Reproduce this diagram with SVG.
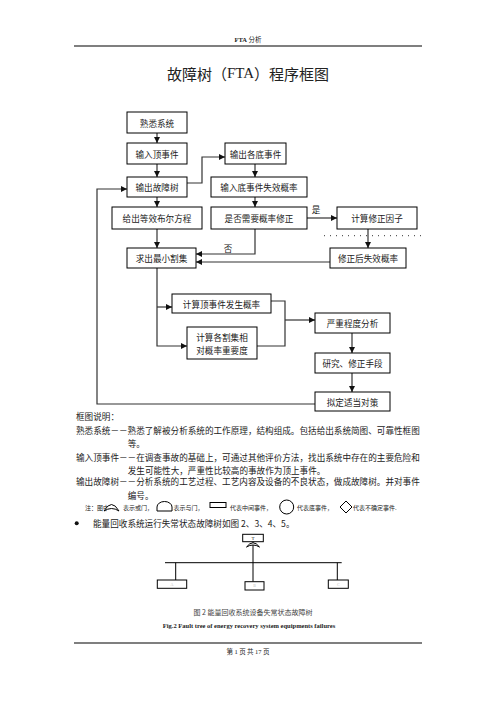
<svg xmlns="http://www.w3.org/2000/svg" width="496" height="702" viewBox="0 0 496 702">
<style>
.box{fill:#fff;stroke:#000;stroke-width:1}
.bt{font-family:"Noto Sans CJK SC","Liberation Serif",serif;font-size:8.6px;fill:#222;text-anchor:middle;dominant-baseline:central}
.con{fill:none;stroke:#333;stroke-width:1.2}
.p{font-family:"Noto Sans CJK SC","Liberation Serif",serif;font-size:8.6px;fill:#222}
.lg{font-family:"Noto Sans CJK SC","Liberation Serif",serif;font-size:6px;fill:#222;dominant-baseline:central}
.sym{fill:#fff;stroke:#000;stroke-width:1}
</style>
<defs>
<marker id="ah" viewBox="0 0 6 6" refX="6" refY="3" markerWidth="6" markerHeight="6" markerUnits="userSpaceOnUse" orient="auto">
<path d="M0,0 L6,3 L0,6 Z" fill="#111"/>
</marker>
</defs>
<rect width="496" height="702" fill="#fff"/>
<!-- header -->
<text x="248" y="42" text-anchor="middle" font-family="Liberation Serif,'Noto Sans CJK SC',serif" font-size="6.5" fill="#222"><tspan font-weight="bold">FTA</tspan> <tspan font-family="'Noto Sans CJK SC',serif">分析</tspan></text>
<line x1="74" y1="46" x2="422" y2="46" stroke="#000" stroke-width="1.2"/>
<text x="248" y="73" text-anchor="middle" dominant-baseline="central" font-family="'Noto Sans CJK SC',serif" font-size="15" fill="#222">故障树（<tspan font-family="'Liberation Serif',serif">FTA</tspan>）程序框图</text>
<!-- connectors -->
<g id="connectors">
<path class="con" d="M157,133 V143" marker-end="url(#ah)"/>
<path class="con" d="M157,164 V177" marker-end="url(#ah)"/>
<path class="con" d="M157,197 V207" marker-end="url(#ah)"/>
<path class="con" d="M157,229 V248" marker-end="url(#ah)"/>
<path class="con" d="M187,183 H202 V157 H225" marker-end="url(#ah)"/>
<path class="con" d="M255,164 V177" marker-end="url(#ah)"/>
<path class="con" d="M255,197 V207" marker-end="url(#ah)"/>
<path class="con" d="M307,218 H337" marker-end="url(#ah)"/>
<path class="con" d="M255,229 V254 H196" marker-end="url(#ah)"/>
<path class="con" d="M368,229 V248" marker-end="url(#ah)"/>
<line x1="324" y1="235.7" x2="421" y2="235.7" stroke="#333" stroke-width="1" stroke-dasharray="1 5"/>
<path class="con" d="M330,262 H196" marker-end="url(#ah)"/>
<path class="con" d="M157,268 V346 H187" marker-end="url(#ah)"/>
<path class="con" d="M157,307 H172" marker-end="url(#ah)"/>
<path class="con" d="M271,301 H285 V346 H257"/>
<path class="con" d="M285,320 H315" marker-end="url(#ah)"/>
<path class="con" d="M352,333 V353" marker-end="url(#ah)"/>
<path class="con" d="M352,373 V392" marker-end="url(#ah)"/>
<path class="con" d="M315,404 H97 V189 H127" marker-end="url(#ah)"/>
<text class="bt" x="316" y="209">是</text>
<text class="bt" x="228" y="248">否</text>
</g>
<!-- nodes -->
<g id="n1"><rect class="box" x="127" y="112" width="60" height="21"/><text class="bt" x="157" y="122.5">熟悉系统</text></g>
<g id="n2"><rect class="box" x="127" y="143" width="60" height="21"/><text class="bt" x="157" y="153.5">输入顶事件</text></g>
<g id="n3"><rect class="box" x="127" y="177" width="60" height="20"/><text class="bt" x="157" y="187">输出故障树</text></g>
<g id="n4"><rect class="box" x="112" y="207" width="90" height="22"/><text class="bt" x="157" y="218">给出等效布尔方程</text></g>
<g id="n5"><rect class="box" x="225" y="143" width="61" height="21"/><text class="bt" x="255.5" y="153.5">输出各底事件</text></g>
<g id="n6"><rect class="box" x="211" y="177" width="96" height="20"/><text class="bt" x="259" y="187">输入底事件失效概率</text></g>
<g id="n7"><rect class="box" x="211" y="207" width="96" height="22"/><text class="bt" x="259" y="218">是否需要概率修正</text></g>
<g id="n8"><rect class="box" x="337" y="207" width="80" height="22"/><text class="bt" x="377" y="218">计算修正因子</text></g>
<g id="n9"><rect class="box" x="127" y="248" width="69" height="20"/><text class="bt" x="161.5" y="258">求出最小割集</text></g>
<g id="n10"><rect class="box" x="330" y="248" width="76" height="20"/><text class="bt" x="368" y="258">修正后失效概率</text></g>
<g id="n11"><rect class="box" x="172" y="294" width="99" height="19"/><text class="bt" x="221.5" y="303.5">计算顶事件发生概率</text></g>
<g id="n12"><rect class="box" x="187" y="327" width="70" height="32"/><text class="bt" x="222" y="336.5">计算各割集相</text><text class="bt" x="222" y="349.5">对概率重要度</text></g>
<g id="n13"><rect class="box" x="315" y="313" width="75" height="20"/><text class="bt" x="352.5" y="323">严重程度分析</text></g>
<g id="n14"><rect class="box" x="315" y="353" width="75" height="20"/><text class="bt" x="352.5" y="363">研究、修正手段</text></g>
<g id="n15"><rect class="box" x="315" y="392" width="75" height="19"/><text class="bt" x="352.5" y="401.5">拟定适当对策</text></g>
<!-- explanation text -->
<text class="p" x="76" y="420">框图说明：</text>
<text class="p" x="76" y="434">熟悉系统－－熟悉了解被分析系统的工作原理，结构组成。包括给出系统简图、可靠性框图</text>
<text class="p" x="127.7" y="447">等。</text>
<text class="p" x="76" y="461">输入顶事件－－在调查事故的基础上，可通过其他评价方法，找出系统中存在的主要危险和</text>
<text class="p" x="127.7" y="474">发生可能性大，严重性比较高的事故作为顶上事件。</text>
<text class="p" x="76" y="485">输出故障树－－分析系统的工艺过程、工艺内容及设备的不良状态，做成故障树。并对事件</text>
<text class="p" x="127.7" y="499">编号。</text>
<!-- legend -->
<text class="lg" x="85" y="507">注：图中</text>
<path class="sym" d="M104,511 Q111.5,498 119,511 Q111.5,506 104,511 Z"/>
<text class="lg" x="123" y="507">表示或门，</text>
<path class="sym" d="M157,511 V507 A7.5,5.5 0 0 1 172,507 V511 Z"/>
<text class="lg" x="173.5" y="507">表示与门，</text>
<rect class="sym" x="210" y="502.5" width="16" height="5"/>
<text class="lg" x="230" y="507">代表中间事件，</text>
<circle class="sym" cx="286.7" cy="507" r="7"/>
<text class="lg" x="297" y="507">代表底事件，</text>
<path class="sym" d="M340,507 L346,501 L352,507 L346,513 Z"/>
<text class="lg" x="353" y="507">代表不确定事件.</text>
<circle cx="76.7" cy="523.3" r="2" fill="#111"/>
<text class="p" x="93" y="526.5">能量回收系统运行失常状态故障树如图 2、3、4、5。</text>
<!-- fault tree -->
<g id="ft">
<rect class="sym" x="242.7" y="534.3" width="20.6" height="7.4"/>
<text x="253" y="538" text-anchor="middle" dominant-baseline="central" font-family="Liberation Serif,serif" font-size="5" fill="#222">T</text>
<line x1="253" y1="541.7" x2="253" y2="581.7" stroke="#000" stroke-width="1"/>
<path class="sym" d="M246.5,547 Q253,538.5 259.5,547 Q253,543 246.5,547 Z"/>
<line x1="165" y1="562.7" x2="341.7" y2="562.7" stroke="#000" stroke-width="1"/>
<line x1="175.7" y1="562.7" x2="175.7" y2="580" stroke="#000" stroke-width="1"/>
<line x1="337.3" y1="562.7" x2="337.3" y2="580" stroke="#000" stroke-width="1"/>
<rect class="sym" x="157.3" y="580" width="29.4" height="8.3"/>
<rect class="sym" x="245" y="581.7" width="19" height="8.3"/>
<rect class="sym" x="328.3" y="580" width="20" height="8.3"/>
<text x="172" y="584.2" text-anchor="middle" dominant-baseline="central" font-family="Liberation Serif,serif" font-size="4" fill="#bbb">A</text>
<text x="254.5" y="585.9" text-anchor="middle" dominant-baseline="central" font-family="Liberation Serif,serif" font-size="4" fill="#bbb">B</text>
<text x="338.3" y="584.2" text-anchor="middle" dominant-baseline="central" font-family="Liberation Serif,serif" font-size="4" fill="#bbb">C</text>
</g>
<text x="253" y="615" text-anchor="middle" font-family="'Noto Sans CJK SC',serif" font-size="7" fill="#444">图 2 能量回收系统设备失常状态故障树</text>
<text x="249" y="628" text-anchor="middle" font-family="Liberation Serif,serif" font-size="6.5" font-weight="bold" fill="#222">Fig.2 Fault tree of energy recovery system equipments failures</text>
<!-- footer -->
<line x1="74" y1="643" x2="422" y2="643" stroke="#000" stroke-width="1.2"/>
<text x="248" y="654" text-anchor="middle" font-family="'Noto Sans CJK SC',serif" font-size="6.5" fill="#222">第 <tspan font-family="Liberation Serif,serif">1</tspan> 页 共 <tspan font-family="Liberation Serif,serif">17</tspan> 页</text>
</svg>
